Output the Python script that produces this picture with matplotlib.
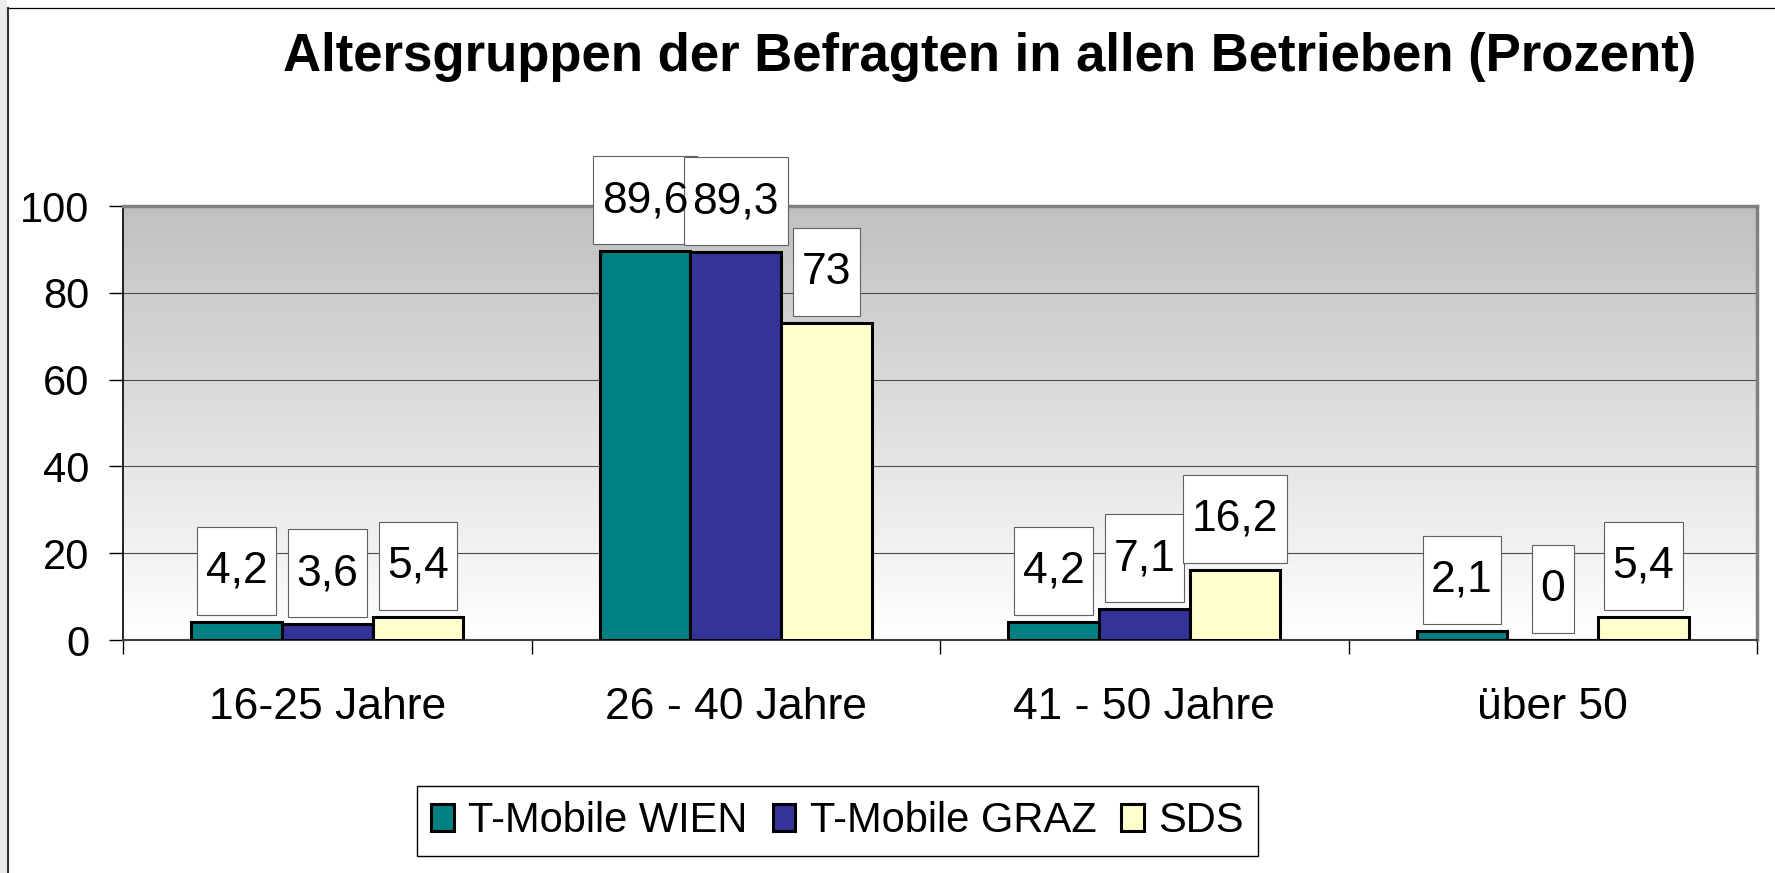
import numpy as np
import matplotlib
matplotlib.use("Agg")
import matplotlib.pyplot as plt
from matplotlib.colors import LinearSegmentedColormap
from matplotlib.patches import Rectangle
from matplotlib.lines import Line2D

plt.rcParams['font.family'] = ['Liberation Sans', 'DejaVu Sans']

# data
categories = ['16-25 Jahre', '26 - 40 Jahre', '41 - 50 Jahre', 'über 50']
wien = [4.2, 89.6, 4.2, 2.1]
graz = [3.6, 89.3, 7.1, 0]
sds = [5.4, 73, 16.2, 5.4]
series_names = ['T-Mobile WIEN', 'T-Mobile GRAZ', 'SDS']
series = [wien, graz, sds]
colors = ['#008080', '#333399', '#ffffcc']
title = 'Altersgruppen der Befragten in allen Betrieben (Prozent)'

W, H = 1775, 873
fig = plt.figure(figsize=(W / 100, H / 100), dpi=100)
ax = fig.add_axes([123 / W, 1 - 640 / H, (1757 - 123) / W, (640 - 206) / H])

# plot area background: gray at the top fading to white
bg = LinearSegmentedColormap.from_list('bg', ['#ffffff', '#c0c0c0'])
ax.imshow(np.linspace(0, 1, 256).reshape(-1, 1), extent=(-0.5, 3.5, 0, 100),
          origin='lower', aspect='auto', cmap=bg, zorder=0)

x = np.arange(len(categories))
bw = 1 / 4.5
offsets = [-bw, 0, bw]
bars = []
for vals, off, col in zip(series, offsets, colors):
    b = ax.bar(x + off, vals, bw, color=col, edgecolor='black', linewidth=2.2, zorder=3)
    bars.append(b)

ax.set_xlim(-0.5, 3.5)
ax.set_ylim(0, 100)
ax.set_yticks(range(0, 101, 20))
ax.set_axisbelow(True)
ax.yaxis.grid(True, color='#4d4d4d', linewidth=0.8)

ax.set_xticks(x)
ax.set_xticklabels(categories, fontsize=32)
ax.set_xticks(np.arange(-0.5, 4, 1), minor=True)
ax.tick_params(axis='x', which='major', length=0, pad=34)
ax.tick_params(axis='x', which='minor', length=10, width=1, color='black', direction='out')
ax.tick_params(axis='y', length=10, width=1, color='black', pad=14, labelsize=30, direction='out')

ax.spines['left'].set_color('black')
ax.spines['left'].set_linewidth(1.2)
ax.spines['bottom'].set_color('#404040')
ax.spines['bottom'].set_linewidth(1.5)
for s in ['top', 'right']:
    ax.spines[s].set_color('#808080')
    ax.spines[s].set_linewidth(2.5)

# value labels in white boxes
texts = []
for vals, off in zip(series, offsets):
    for xi, v in zip(x + off, vals):
        lab = f"{v:g}".replace('.', ',')
        t = ax.annotate(lab, xy=(xi, v), xytext=(0, 39 * 0.72), textcoords='offset points',
                        ha='center', va='baseline', fontsize=32, zorder=7,
                        annotation_clip=False)
        texts.append((t, xi, v))

fig.canvas.draw()
renderer = fig.canvas.get_renderer()
to_axes = ax.transAxes.inverted()
z = 5
for t, xi, v in texts:
    ext = t.get_window_extent(renderer)
    w = ext.width + 17
    px, py = ax.transData.transform((xi, v))
    x0, y0 = to_axes.transform((px - w / 2, py + 7))
    x1, y1 = to_axes.transform((px + w / 2, py + 95))
    ax.add_patch(Rectangle((x0, y0), x1 - x0, y1 - y0, transform=ax.transAxes,
                           facecolor='white', edgecolor='#606060', linewidth=0.8,
                           zorder=z, clip_on=False))
    t.set_zorder(z + 0.5)
    z += 0.01

fig.text(990 / W, 1 - 57 / H, title, ha='center', va='center', fontsize=38, fontweight='bold')

leg = fig.legend([b[0] for b in bars], series_names, loc='center',
                 bbox_to_anchor=(837.5 / W, 1 - 821 / H), ncol=3, fontsize=30,
                 frameon=True, fancybox=False, edgecolor='black', framealpha=1,
                 handlelength=0.55, handleheight=0.62, handletextpad=0.34,
                 columnspacing=0.6, borderpad=0.35)
leg.get_frame().set_linewidth(1.0)

# outer chart frame
fig.add_artist(Rectangle((0, 0), 7 / W, 1, transform=fig.transFigure,
                         facecolor='#ececec', edgecolor='none'))
fig.add_artist(Line2D([8 / W, 8 / W], [0, 1 - 8 / H], color='#333333', linewidth=1.5,
                      transform=fig.transFigure))
fig.add_artist(Line2D([8 / W, 1], [1 - 8 / H, 1 - 8 / H], color='black', linewidth=0.9,
                      transform=fig.transFigure))

fig.savefig('out.png', dpi=100)
